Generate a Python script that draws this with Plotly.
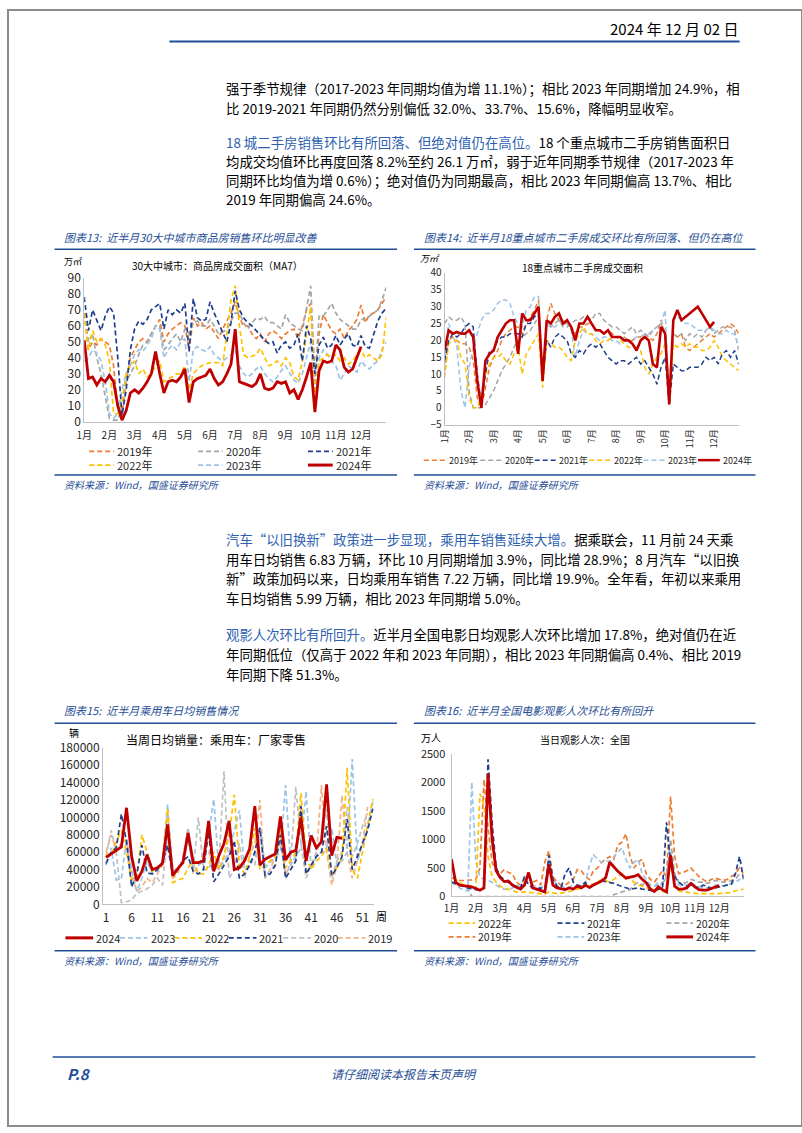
import plotly.graph_objects as go

W, H = 802, 1133
def X(px): return px / W
def Y(py): return 1 - py / H

FONT = "Noto Sans CJK SC"
BLUE = "#1F4E96"
HEAD_BLUE = "#2E62B0"

# ---------------- data ----------------
month_ticks = list(range(1, 13))
month_labels = ["1月", "2月", "3月", "4月", "5月", "6月", "7月", "8月", "9月", "10月", "11月", "12月"]
# sample positions in month units (about every 5 days)
grid = [1 + i / 6 for i in range(73)]

# Chart 13: 30 cities new-home sales area (MA7), 万㎡
c13_2019 = [68, 45, 50, 48, 52, 50, 48, 35, 8, 5, 25, 40, 45, 50, 52, 50, 55, 60,
            64, 50, 55, 58, 60, 62, 60, 45, 65, 60, 62, 58, 60, 56, 52, 58, 63, 68,
            75, 65, 60, 60, 55, 52, 55, 50, 55, 57, 55, 52, 55, 57, 58, 52, 60, 70,
            74, 30, 55, 67, 62, 57, 55, 58, 52, 57, 60, 64, 73, 62, 67, 68, 70, 74, 78]
c13_2020 = [68, 50, 55, 40, 30, 15, 2, 1, 1, 10, 25, 30, 35, 42, 48, 50, 55, 60,
            60, 45, 48, 52, 55, 50, 58, 55, 62, 63, 60, 60, 64, 60, 55, 56, 58, 63,
            68, 68, 62, 58, 62, 65, 64, 66, 62, 62, 60, 58, 67, 62, 60, 58, 57, 72,
            85, 25, 66, 66, 70, 74, 68, 64, 62, 60, 58, 58, 64, 64, 66, 68, 70, 76, 84]
c13_2021 = [78, 57, 70, 64, 57, 66, 72, 68, 40, 4, 20, 45, 58, 63, 61, 64, 70, 72,
            74, 58, 70, 67, 70, 68, 74, 44, 77, 65, 63, 64, 75, 68, 62, 55, 50, 62,
            82, 70, 65, 62, 60, 57, 54, 51, 49, 50, 43, 48, 50, 46, 48, 55, 38, 60,
            52, 30, 48, 53, 46, 48, 54, 48, 52, 55, 48, 47, 54, 47, 46, 55, 63, 68, 71]
c13_2022 = [68, 45, 57, 50, 52, 48, 38, 5, 5, 12, 30, 35, 38, 30, 33, 28, 30, 35,
            38, 25, 27, 28, 30, 30, 35, 20, 30, 33, 35, 36, 37, 37, 37, 35, 55, 76,
            85, 60, 42, 40, 41, 42, 46, 40, 35, 36, 38, 35, 40, 37, 28, 26, 38, 55,
            72, 15, 38, 40, 42, 40, 42, 38, 40, 36, 38, 42, 45, 40, 42, 40, 38, 42, 65]
c13_2023 = [38, 40, 45, 43, 38, 25, 5, 2, 5, 20, 30, 35, 42, 45, 44, 48, 52, 60,
            58, 40, 45, 48, 45, 50, 52, 25, 45, 47, 45, 44, 47, 42, 40, 38, 40, 42,
            45, 35, 30, 28, 30, 33, 35, 30, 27, 25, 28, 32, 35, 30, 26, 24, 30, 40,
            50, 20, 40, 45, 42, 38, 35, 26, 30, 35, 33, 31, 38, 35, 33, 36, 38, 45, 50]
c13_2024 = [51, 27, 28, 23, 27, 25, 29, 25, 10, 1, 7, 18, 20, 18, 21, 25, 30, 44,
            30, 18, 25, 26, 25, 28, 33, 12, 25, 27, 28, 29, 33, 27, 23, 25, 30, 36,
            58, 25, 24, 23, 22, 24, 30, 21, 20, 21, 25, 24, 25, 18, 20, 14, 20, 28,
            37, 6, 32, 38, 37, 38, 48, 45, 34, 31, 33, 40, 47]

# Chart 14: 18 cities second-hand housing area, 万㎡
c14_2019 = [11, 20, 21, 20, 19, 19, 18, 14, 3, 0, 6, 12, 15, 17, 20, 22, 23, 24,
            24, 22, 25, 27, 29, 32, 8, 26, 31, 28, 26, 25, 25, 24, 22, 24, 24, 25,
            25, 23, 23, 22, 23, 22, 21, 21, 21, 20, 20, 21, 21, 22, 21, 20, 22, 26,
            22, 1, 22, 21, 22, 18, 17, 18, 19, 20, 21, 22, 21, 22, 23, 24, 25, 24, 22]
c14_2020 = [25, 27, 26, 26, 27, 25, 5, 0, 0, 0, 1, 3, 5, 8, 11, 13, 15, 18,
            20, 21, 22, 23, 25, 27, 10, 25, 24, 25, 26, 24, 24, 25, 26, 26, 27, 27,
            26, 28, 28, 26, 25, 24, 24, 23, 22, 23, 24, 22, 23, 22, 21, 23, 24, 25,
            22, 1, 22, 21, 22, 20, 22, 21, 22, 21, 23, 24, 22, 23, 24, 24, 24, 23, 17]
c14_2021 = [14, 20, 22, 21, 22, 24, 25, 24, 10, 1, 10, 17, 17, 20, 21, 21, 22, 22,
            22, 21, 25, 25, 27, 28, 8, 20, 18, 21, 22, 21, 20, 16, 15, 17, 16, 18,
            19, 18, 19, 17, 15, 14, 13, 14, 14, 13, 14, 15, 13, 14, 12, 10, 7, 12,
            15, 1, 13, 12, 11, 11, 12, 12, 12, 13, 15, 14, 15, 13, 16, 17, 15, 17, 13]
c14_2022 = [9, 19, 20, 20, 15, 13, 3, 0, 0, 4, 10, 13, 15, 15, 16, 14, 13, 16,
            18, 10, 16, 18, 20, 22, 6, 20, 19, 18, 18, 17, 15, 14, 20, 22, 24, 22,
            22, 20, 19, 20, 20, 21, 21, 20, 19, 18, 18, 18, 17, 12, 10, 13, 15, 16,
            19, 1, 19, 18, 19, 18, 19, 18, 18, 17, 17, 18, 20, 18, 15, 14, 13, 12, 11]
c14_2023 = [13, 25, 22, 18, 5, 0, 12, 18, 22, 26, 28, 28, 29, 31, 32, 32, 31, 27,
            25, 24, 29, 30, 33, 33, 9, 25, 24, 24, 25, 26, 25, 23, 15, 20, 23, 22,
            22, 21, 20, 21, 21, 20, 20, 19, 21, 20, 20, 21, 21, 22, 22, 23, 24, 25,
            29, 1, 26, 27, 26, 25, 25, 24, 23, 23, 23, 24, 23, 22, 22, 23, 22, 22, 18]
c14_2024 = [17, 23, 22, 22.5, 22, 22, 23, 21, 8, 0, 14, 16, 17, 21, 23, 25, 26, 26,
            16, 28, 26, 26, 28, 30, 8, 26, 25, 27, 28, 25, 26, 24, 20, 25, 25, 27,
            25, 23, 23, 22, 23, 21, 21, 21, 20, 20, 19, 17, 20, 21, 20, 13, 12, 24,
            22, 1, 26, 29, 26, 27, 28, 29, 30, 28, 26, 24, 25.5]

# Chart 15: weekly daily-average passenger car retail sales, 辆
weeks = list(range(1, 54))
week_ticks = [1, 6, 11, 16, 21, 26, 31, 36, 41, 46, 51]
c15_2024 = [54000, 58000, 62000, 66000, 111000, 55000, 27000, 38000, 57000, 40000,
            42000, 47000, 92000, 33000, 41000, 48000, 82000, 48000, 48000, 50000,
            96000, 38000, 56000, 70000, 96000, 40000, 42000, 50000, 64000, 113000,
            45000, 52000, 55000, 58000, 101000, 51000, 60000, 62000, 100000, 50000,
            79000, 65000, 72000, 138000, 56000, 77000, 76000]
c15_2023 = [45000, 65000, 28000, 30000, 75000, 40000, 15000, 30000, 50000, 35000,
            38000, 50000, 115000, 38000, 42000, 50000, 75000, 42000, 45000, 50000,
            80000, 121000, 40000, 50000, 60000, 85000, 108000, 40000, 45000, 55000,
            90000, 42000, 48000, 55000, 60000, 137000, 45000, 55000, 65000, 130000,
            40000, 55000, 60000, 65000, 88000, 45000, 50000, 60000, 167000, 50000,
            70000, 90000, 118000]
c15_2022 = [58000, 56000, 72000, 85000, 60000, 28000, 30000, 80000, 60000, 38000,
            42000, 45000, 110000, 25000, 28000, 30000, 42000, 50000, 35000, 35000,
            45000, 60000, 40000, 55000, 80000, 126000, 45000, 35000, 55000, 88000,
            40000, 45000, 50000, 55000, 90000, 42000, 50000, 60000, 128000, 55000,
            40000, 50000, 55000, 65000, 35000, 42000, 55000, 157000, 40000, 30000,
            60000, 90000, 121000]
c15_2021 = [47000, 60000, 65000, 104000, 72000, 20000, 35000, 68000, 36000, 35000,
            40000, 48000, 68000, 33000, 40000, 50000, 55000, 38000, 35000, 40000,
            83000, 26000, 35000, 45000, 55000, 73000, 30000, 35000, 45000, 60000,
            88000, 33000, 35000, 45000, 80000, 30000, 40000, 50000, 113000, 35000,
            45000, 55000, 60000, 90000, 33000, 42000, 55000, 98000, 40000, 55000,
            70000, 85000, 110000]
c15_2020 = [55000, 85000, 60000, 2000, 3000, 5000, 13000, 15000, 18000, 22000,
            30000, 22000, 80000, 35000, 40000, 50000, 88000, 40000, 100000, 40000,
            40000, 55000, 45000, 153000, 30000, 40000, 70000, 30000, 50000, 45000,
            85000, 30000, 40000, 45000, 90000, 30000, 50000, 135000, 70000, 30000,
            45000, 60000, 75000, 110000, 30000, 50000, 60000, 112000, 55000, 70000,
            90000, 105000]
c15_2019 = [60000, 80000, 62000, 70000, 75000, 35000, 15000, 20000, 30000, 25000,
            35000, 45000, 105000, 30000, 35000, 55000, 88000, 35000, 45000, 55000,
            60000, 45000, 40000, 55000, 85000, 40000, 45000, 50000, 55000, 70000,
            120000, 30000, 40000, 55000, 75000, 35000, 45000, 55000, 110000, 35000,
            45000, 55000, 137000, 60000, 22000, 45000, 125000, 60000, 30000, 50000,
            70000, 112000]

# Chart 16: daily national cinema admissions, 万人
c16_2019 = [330, 300, 280, 280, 280, 290, 300, 500, 2050, 1200, 600, 450,
            400, 470, 420, 400, 250, 200, 300, 350, 250, 280, 200, 600,
            800, 350, 250, 200, 200, 250, 300, 470, 450, 350, 300, 450,
            500, 600, 650, 700, 650, 900, 950, 1100, 700, 500, 600, 650,
            400, 300, 250, 350, 450, 350, 1750, 700, 400, 420, 450, 500,
            420, 350, 300, 250, 300, 320, 300, 280, 300, 350, 400, 500, 400]
c16_2020 = [260, 230, 200, 180, 150, 0, 0, 0, 0, 0, 0, 0,
            0, 0, 0, 0, 0, 0, 0, 0, 0, 0, 0, 0,
            0, 0, 0, 0, 0, 0, 0, 0, 0, 0, 0, 0,
            0, 0, 0, 0, 30, 60, 80, 100, 120, 200, 250, 200,
            250, 200, 180, 200, 250, 300, 1000, 400, 250, 220, 250, 300,
            280, 250, 250, 230, 250, 280, 270, 250, 260, 280, 300, 400, 380]
c16_2021 = [250, 230, 200, 180, 150, 130, 120, 110, 150, 2400, 1300, 500,
            350, 300, 250, 200, 180, 150, 350, 200, 150, 130, 150, 120,
            720, 300, 180, 150, 400, 500, 250, 200, 180, 250, 150, 200,
            230, 280, 260, 250, 230, 200, 180, 150, 130, 140, 150, 130,
            120, 100, 100, 130, 140, 1300, 600, 350, 250, 200, 180, 200,
            170, 150, 200, 180, 130, 150, 160, 180, 200, 220, 400, 700, 300]
c16_2022 = [620, 300, 250, 200, 200, 180, 130, 1800, 1600, 700, 350, 250,
            180, 150, 120, 100, 80, 70, 80, 70, 60, 60, 50, 40,
            80, 60, 50, 60, 70, 80, 100, 130, 150, 180, 200, 220,
            250, 300, 280, 250, 300, 350, 400, 350, 300, 250, 200, 180,
            150, 130, 120, 100, 90, 80, 600, 200, 100, 80, 70, 70,
            60, 50, 50, 50, 40, 50, 50, 60, 60, 70, 100, 120, 130]
c16_2023 = [250, 200, 150, 120, 100, 2000, 600, 350, 300, 280, 250, 200,
            150, 130, 120, 150, 200, 180, 250, 350, 200, 180, 150, 200,
            650, 300, 200, 180, 150, 160, 200, 180, 200, 250, 550, 730,
            650, 600, 620, 620, 700, 780, 850, 650, 500, 600, 650, 400,
            300, 200, 180, 250, 200, 350, 800, 300, 200, 180, 200, 250,
            200, 180, 150, 150, 170, 200, 200, 180, 200, 230, 250, 300, 280]
c16_2024 = [650, 250, 200, 190, 180, 170, 140, 110, 150, 2150, 1000, 450,
            330, 260, 270, 200, 160, 130, 200, 420, 150, 130, 100, 80,
            560, 200, 150, 130, 120, 150, 130, 180, 150, 200, 160, 200,
            230, 270, 330, 600, 520, 440, 380, 320, 340, 350, 380, 300,
            240, 130, 90, 170, 120, 80, 720, 180, 130, 130, 150, 230,
            170, 120, 110, 110, 140, 170, 190]

# ---------------- styles ----------------
COL = {
    "2019": "#ED7D31", "2020": "#A5A5A5", "2021": "#1F3E8C",
    "2022": "#FFC000", "2023": "#9DC3E6", "2024": "#C00000",
}
COL15 = {
    "2019": "#F4B183", "2020": "#BFBFBF", "2021": "#1F3E8C",
    "2022": "#FFC000", "2023": "#9DC3E6", "2024": "#C00000",
}
DASH = "5px,3px"

fig = go.Figure()

def add_series(x, y, color, xa, ya, solid=False, width=None):
    fig.add_trace(go.Scatter(
        x=x[:len(y)], y=y, mode="lines", xaxis=xa, yaxis=ya, showlegend=False,
        hoverinfo="skip",
        line=dict(color=color, width=width or (2.8 if solid else 1.7),
                  dash="solid" if solid else DASH)))

# Chart 13
for name, arr in [("2019", c13_2019), ("2020", c13_2020), ("2023", c13_2023),
                  ("2022", c13_2022), ("2021", c13_2021)]:
    add_series(grid, arr, COL[name], "x", "y")
add_series(grid, c13_2024, COL["2024"], "x", "y", solid=True)
# Chart 14
for name, arr in [("2019", c14_2019), ("2020", c14_2020), ("2023", c14_2023),
                  ("2022", c14_2022), ("2021", c14_2021)]:
    add_series(grid, arr, COL[name], "x2", "y2", width=1.5)
add_series(grid, c14_2024, COL["2024"], "x2", "y2", solid=True, width=2.6)
# Chart 15
for name, arr in [("2019", c15_2019), ("2020", c15_2020), ("2023", c15_2023),
                  ("2022", c15_2022), ("2021", c15_2021)]:
    add_series(weeks, arr, COL15[name], "x3", "y3")
add_series(weeks, c15_2024, COL15["2024"], "x3", "y3", solid=True)
# Chart 16
for name, arr in [("2019", c16_2019), ("2020", c16_2020), ("2023", c16_2023),
                  ("2022", c16_2022), ("2021", c16_2021)]:
    add_series(grid, arr, COL[name], "x4", "y4")
add_series(grid, c16_2024, COL["2024"], "x4", "y4", solid=True)

AX = dict(showline=True, linecolor="#BFBFBF", linewidth=1, showgrid=False,
          zeroline=False, ticks="", fixedrange=True)
TF = dict(family=FONT, size=11, color="#262626")

fig.update_layout(
    width=W, height=H, margin=dict(l=0, r=0, t=0, b=0),
    paper_bgcolor="white", plot_bgcolor="white", showlegend=False,
    font=dict(family=FONT, color="#000000"),
    xaxis=dict(AX, domain=[X(77), X(382)], range=[1, 13], tickvals=month_ticks,
               ticktext=month_labels, tickangle=0, tickfont=dict(TF, size=10),
               ticklabelstandoff=4, anchor="y"),
    yaxis=dict(AX, domain=[Y(418), Y(272)], range=[0, 90], dtick=10,
               tickfont=dict(TF, size=12), anchor="x"),
    xaxis2=dict(AX, domain=[X(441), X(738)], range=[1, 13], tickvals=month_ticks,
                ticktext=month_labels, tickangle=-90, tickfont=dict(TF, size=9),
                anchor="y2"),
    yaxis2=dict(AX, domain=[Y(421), Y(267)], range=[-5, 40], dtick=5,
                tickfont=dict(TF, size=10), anchor="x2"),
    xaxis3=dict(AX, domain=[X(96), X(370)], range=[0.42, 53.3], tickvals=week_ticks,
                tickangle=0, tickfont=dict(TF, size=12), ticklabelstandoff=2, anchor="y3"),
    yaxis3=dict(AX, domain=[Y(908), Y(749)], range=[0, 180000], dtick=20000,
                tickformat="d", tickfont=dict(TF, size=12), anchor="x3"),
    xaxis4=dict(AX, domain=[X(448), X(743)], range=[1, 13], tickvals=month_ticks,
                ticktext=month_labels, tickangle=0, tickfont=dict(TF, size=10),
                ticklabelstandoff=3, anchor="y4"),
    yaxis4=dict(AX, domain=[Y(900), Y(755)], range=[0, 2500], dtick=500,
                tickformat="d", tickfont=TF, ticklabelstandoff=3, anchor="x4"),
)

annotations = []
def txt(text, x, y, size=13, color="#000000", xanchor="left", italic=False, bold=False):
    f = dict(family=FONT, size=size, color=color)
    if italic:
        f["style"] = "italic"
    if bold:
        f["weight"] = "bold"
    annotations.append(dict(text=text, x=X(x), y=Y(y), xref="paper", yref="paper",
                            xanchor=xanchor, yanchor="middle", showarrow=False, font=f))

shapes = []
def hline(x0, x1, y, color=BLUE, width=2, dash="solid"):
    shapes.append(dict(type="line", xref="paper", yref="paper", x0=X(x0), x1=X(x1),
                       y0=Y(y), y1=Y(y), line=dict(color=color, width=width, dash=dash)))

# page border
shapes.append(dict(type="rect", xref="paper", yref="paper", x0=0, x1=1, y0=0, y1=1,
                   line=dict(color="#8C8C8C", width=2)))

# header
txt("2024 年 12 月 02 日", 739, 19, size=15, xanchor="right")
hline(163, 739, 32, width=2)

def blue(s):
    return f'<span style="color:{HEAD_BLUE}">{s}</span>'

P = 13.4
txt("强于季节规律（2017-2023 年同期均值为增 11.1%）；相比 2023 年同期增加 24.9%，相", 218, 79, P)
txt("比 2019-2021 年同期仍然分别偏低 32.0%、33.7%、15.6%，降幅明显收窄。", 218, 99, P)
txt(blue("18 城二手房销售环比有所回落、但绝对值仍在高位。") + "18 个重点城市二手房销售面积日", 218, 134, P)
txt("均成交均值环比再度回落 8.2%至约 26.1 万㎡，弱于近年同期季节规律（2017-2023 年", 218, 153, P)
txt("同期环比均值为增 0.6%）；绝对值仍为同期最高，相比 2023 年同期偏高 13.7%、相比", 218, 173, P)
txt("2019 年同期偏高 24.6%。", 218, 192, P)

txt(blue("汽车“以旧换新”政策进一步显现，乘用车销售延续大增。") + "据乘联会，11 月前 24 天乘", 218, 537, P)
txt("用车日均销售 6.83 万辆，环比 10 月同期增加 3.9%，同比增 28.9%；8 月汽车“以旧换", 218, 557, P)
txt("新”政策加码以来，日均乘用车销售 7.22 万辆，同比增 19.9%。全年看，年初以来乘用", 218, 577, P)
txt("车日均销售 5.99 万辆，相比 2023 年同期增 5.0%。", 218, 597, P)
txt(blue("观影人次环比有所回升。") + "近半月全国电影日均观影人次环比增加 17.8%，绝对值仍在近", 218, 634, P)
txt("年同期低位（仅高于 2022 年和 2023 年同期），相比 2023 年同期偏高 0.4%、相比 2019", 218, 654, P)
txt("年同期下降 51.3%。", 218, 674, P)

# chart frames (titles, rules, sources)
for (x0, x1, ty, ly, sly, title) in [
    (47, 393, 230, 243, 472, "图表13:  近半月30大中城市商品房销售环比明显改善"),
    (410, 755, 230, 243, 472, "图表14:  近半月18重点城市二手房成交环比有所回落、但仍在高位"),
    (47, 393, 711, 724, 955, "图表15:  近半月乘用车日均销售情况"),
    (410, 755, 711, 724, 955, "图表16:  近半月全国电影观影人次环比有所回升"),
]:
    txt(title, x0 + 8, ty, size=11, color=BLUE, italic=True)
    hline(x0, x1, ly, width=1.5)
    hline(x0, x1, sly, width=1.5)
    txt("资料来源：Wind，国盛证券研究所", x0 + 8, sly + 10, size=10, color=BLUE, italic=True)

# inner chart titles and units
txt("30大中城市：商品房成交面积（MA7）", 212, 259, size=10, xanchor="center")
txt("万㎡", 66, 255, size=9, xanchor="center")
txt("18重点城市二手房成交面积", 580, 261, size=10, xanchor="center")
txt("万㎡", 426, 252, size=9, xanchor="center", italic=True)
txt("当周日均销量：乘用车：厂家零售", 210, 741, size=12, xanchor="center")
txt("辆", 67, 734, size=10, xanchor="center")
txt("周", 377, 920, size=11, xanchor="center")
txt("当日观影人次：全国", 583, 741, size=10, xanchor="center")
txt("万人", 427, 739, size=10, xanchor="center")

# legends
def leg(x0, x1, y, color, label, solid=False, size=10, lw=None):
    shapes.append(dict(type="line", xref="paper", yref="paper", x0=X(x0), x1=X(x1),
                       y0=Y(y), y1=Y(y),
                       line=dict(color=color, width=lw or (3 if solid else 1.7),
                                 dash="solid" if solid else DASH)))
    txt(label, x1 + 1, y, size=size, color="#262626")

# chart 13 legend
leg(82, 107, 448, COL["2019"], "2019年", size=11)
leg(192, 217, 448, COL["2020"], "2020年", size=11)
leg(303, 328, 448, COL["2021"], "2021年", size=11)
leg(82, 107, 462, COL["2022"], "2022年", size=11)
leg(192, 217, 462, COL["2023"], "2023年", size=11)
leg(303, 328, 462, COL["2024"], "2024年", solid=True, size=11)
# chart 14 legend
for x0, name in [(420, "2019"), (477, "2020"), (532, "2021"), (587, "2022"), (642, "2023"), (697, "2024")]:
    leg(x0, x0 + 22, 457, COL[name], name + "年", solid=(name == "2024"), size=9,
        lw=2.5 if name == "2024" else 1.5)
# chart 15 legend
for x0, name in [(58, "2024"), (113, "2023"), (168, "2022"), (223, "2021"), (278, "2020"), (333, "2019")]:
    leg(x0, x0 + 28, 942, COL15[name], name, solid=(name == "2024"), size=11)
# chart 16 legend
leg(445, 472, 927, COL["2022"], "2022年", size=10.5)
leg(555, 582, 927, COL["2021"], "2021年", size=10.5)
leg(665, 692, 927, COL["2020"], "2020年", size=10.5)
leg(445, 472, 941, COL["2019"], "2019年", size=10.5)
leg(555, 582, 941, COL["2023"], "2023年", size=10.5)
leg(665, 692, 941, COL["2024"], "2024年", solid=True, size=10.5)

# footer
hline(45, 755, 1063, width=1.5)
txt("P.8", 58, 1080, size=15, color=BLUE, italic=True, bold=True)
txt("请仔细阅读本报告末页声明", 400, 1080, size=12, color=BLUE, italic=True, xanchor="center")

fig.update_layout(annotations=annotations, shapes=shapes)
fig.write_html("out.html", config={"displayModeBar": False},
               post_script="document.body.style.margin='0';document.body.style.overflow='hidden';")
